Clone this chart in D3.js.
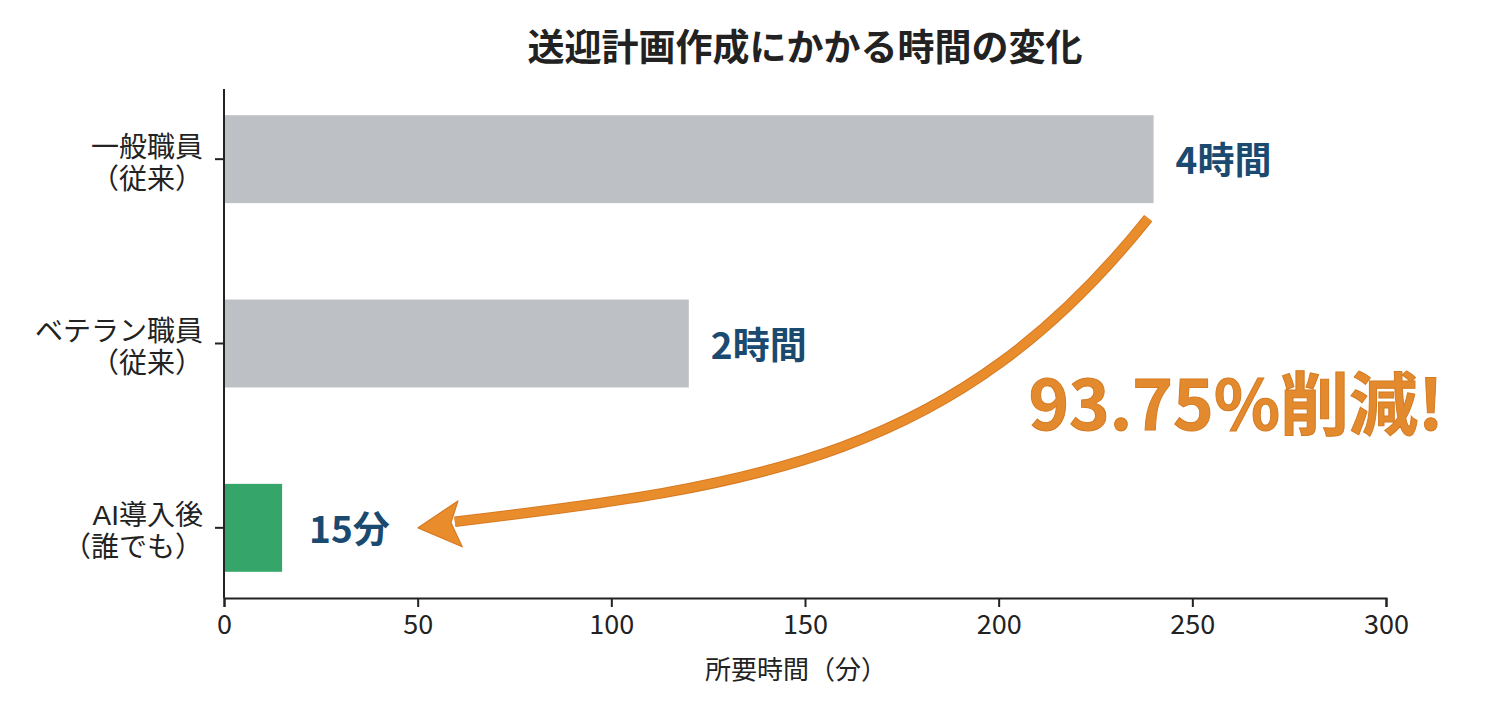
<!DOCTYPE html>
<html><head><meta charset="utf-8">
<script src="https://cdn.jsdelivr.net/npm/d3@7"></script>
<style>
html,body{margin:0;padding:0;background:#fff;}
svg{display:block;}
text{font-family:"Noto Sans CJK JP","Noto Sans",sans-serif;}
</style></head>
<body>
<svg id="c" width="1486" height="704"></svg>
<script>
const categories = ["一般職員（従来）", "ベテラン職員（従来）", "AI導入後（誰でも）"];
const labelLine1 = ["一般職員", "ベテラン職員", "AI導入後"];
const labelLine2 = ["（従来）", "（従来）", "（誰でも）"];
const values = [240, 120, 15];
const valueLabels = ["4時間", "2時間", "15分"];
const barColors = ["#bdc0c5", "#bdc0c5", "#36a56a"];
const xTicks = [0, 50, 100, 150, 200, 250, 300];
const xDomain = [0, 300];
const titleText = "送迎計画作成にかかる時間の変化";
const xTitle = "所要時間（分）";
const reductionText = "93.75%削減!";
// arrow curve (cubic bezier) in data space: [minutes, row position]
const arrowStart = [238.6, 0.320];
const arrowC1 = [188.9, 1.629];
const arrowC2 = [137.1, 1.772];
const arrowEnd = [59.6, 1.967];
const arrowHead = [[50.1,2.0],[60.4,1.854],[58.6,1.972],[61.5,2.103]];

const svg = d3.select("#c");
const left = 224, right = 1386, axisY = 598, axisTop = 89;

const x = d3.scaleLinear().domain(xDomain).range([left, right]);
const y = d3.scaleBand().domain(categories).range([67, 620]).paddingInner(0.523).paddingOuter(0.2615);
const row = d3.scaleLinear().domain([0, 2]).range([y(categories[0]) + y.bandwidth()/2, y(categories[2]) + y.bandwidth()/2]);
const P = d => [x(d[0]), row(d[1])];

// title
svg.append("text").attr("x", 805).attr("y", 45).attr("text-anchor","middle")
  .attr("dominant-baseline","central").attr("font-size", 37).attr("font-weight", 700)
  .attr("fill", "#222").text(titleText);

// bars
svg.selectAll("rect.bar").data(categories).join("rect").attr("class","bar")
  .attr("x", x(0)).attr("y", d => y(d))
  .attr("width", (d,i) => x(values[i]) - x(0)).attr("height", y.bandwidth())
  .attr("fill", (d,i) => barColors[i]);

// value labels
svg.selectAll("text.val").data(categories).join("text").attr("class","val")
  .attr("x", (d,i) => x(values[i]) + (i===2 ? 27 : 22))
  .attr("y", d => y(d) + y.bandwidth()/2 - 1)
  .attr("dominant-baseline","central").attr("font-size", 37).attr("font-weight", 700)
  .attr("fill", "#1b4a70").text((d,i) => valueLabels[i]);

// x axis
const xAxis = d3.axisBottom(x).tickValues(xTicks).tickSize(9).tickSizeOuter(9).tickPadding(8);
const gx = svg.append("g").attr("transform", `translate(0,${axisY})`).call(xAxis);
gx.select(".domain").attr("stroke","#222").attr("stroke-width",2);
gx.selectAll(".tick line").attr("stroke","#222").attr("stroke-width",2);
gx.selectAll(".tick text").attr("font-size",27).attr("fill","#222")
  .attr("font-family",'"Noto Sans CJK JP","Noto Sans",sans-serif');

// y axis
const yAxis = d3.axisLeft(y).tickSize(9).tickFormat("");
const gy = svg.append("g").attr("transform", `translate(${left},0)`).call(yAxis);
gy.select(".domain").remove();
gy.selectAll(".tick line").attr("stroke","#222").attr("stroke-width",2);
svg.append("line").attr("x1", left).attr("x2", left).attr("y1", axisTop).attr("y2", axisY)
  .attr("stroke","#222").attr("stroke-width",2);

// y labels (two lines in one text element)
const yl = svg.selectAll("text.ylab").data(categories).join("text").attr("class","ylab")
  .attr("text-anchor","end").attr("font-size",28).attr("fill","#222")
  .style("font-family", '"Liberation Sans","Noto Sans CJK JP",sans-serif')
  .attr("transform", d => `translate(203,${y(d) + y.bandwidth()/2})`);
yl.append("tspan").attr("x",0).attr("y",-12).attr("dominant-baseline","central").text((d,i) => labelLine1[i]);
yl.append("tspan").attr("x",0).attr("y",20).attr("dominant-baseline","central").text((d,i) => labelLine2[i]);

// x title
svg.append("text").attr("x", (left+right)/2 - 9).attr("y", 667).attr("text-anchor","middle")
  .attr("dominant-baseline","central").attr("font-size",26).attr("fill","#222").text(xTitle);

// arrow
const pth = d3.path();
pth.moveTo(...P(arrowStart));
pth.bezierCurveTo(...P(arrowC1), ...P(arrowC2), ...P(arrowEnd));
svg.append("path").attr("d", pth.toString()).attr("fill","none")
  .attr("stroke","#d77a22").attr("stroke-width",10.5);
svg.append("path").attr("d", pth.toString()).attr("fill","none")
  .attr("stroke","#e88c2c").attr("stroke-width",8.5);
svg.append("path").attr("d", "M" + arrowHead.map(d => P(d).join(",")).join("L") + "Z")
  .attr("fill","#e88c2c").attr("stroke","#d77a22").attr("stroke-width",1.2).attr("stroke-linejoin","round");

// reduction text
svg.append("text").attr("x", 1236).attr("y", 400).attr("text-anchor","middle")
  .attr("dominant-baseline","central").attr("font-size",69).attr("font-weight",700)
  .attr("fill","#e38a2e").attr("stroke","#d47a20").attr("stroke-width",1)
  .text(reductionText);
</script>
</body></html>
